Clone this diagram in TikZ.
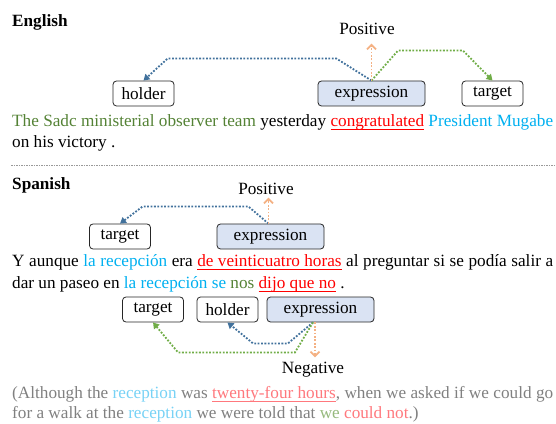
\documentclass[tikz,border=0pt]{standalone}
\usepackage{fontspec}
\setmainfont{Liberation Serif}
\usetikzlibrary{arrows.meta}
\definecolor{holdc}{RGB}{84,130,53}
\definecolor{tgtc}{RGB}{0,176,240}
\definecolor{expc}{RGB}{255,0,0}
\definecolor{holdl}{RGB}{150,185,125}
\definecolor{tgtl}{RGB}{120,210,245}
\definecolor{expl}{RGB}{255,120,125}
\definecolor{transc}{RGB}{128,128,128}
\definecolor{boxfill}{RGB}{218,227,243}
\definecolor{bluelink}{RGB}{65,113,156}
\definecolor{greenlink}{RGB}{112,173,71}
\definecolor{orangelink}{RGB}{244,177,131}
\newcommand{\diagfont}{\rmfamily\fontsize{17.2}{21}\selectfont}
\newsavebox{\undlbox}
\newcommand{\undl}[1]{\sbox{\undlbox}{#1}\rlap{\rule[-3pt]{\wd\undlbox}{0.9pt}}\usebox{\undlbox}}
\begin{document}
\begin{tikzpicture}
  [x=1pt,y=1pt,every node/.style={font=\diagfont},
   link/.style={line width=1.8pt,dash pattern=on 1.8pt off 1.6pt,-{Triangle[length=6pt,width=7pt]}},
   olink/.style={link,orangelink,-{Straight Barb[length=4.5pt,width=9pt]}}]
  \tikzstyle{role} = [draw=black!85,line width=0.8pt,rounded corners=3.5pt,minimum height=25pt,inner sep=0pt,font=\diagfont]
  \tikzstyle{rolebox} = [role,minimum width=61pt]
  \tikzstyle{exprbox} = [role,minimum width=107pt,fill=boxfill]
  \tikzstyle{textline} = [anchor=base west,inner sep=0pt]
  \useasboundingbox (0,0) rectangle (556,423);

  % English
  \node[textline,font=\diagfont\bfseries] (en) at (12,396) {English};
  \node (posE) at (367,394) {Positive};
  \node[rolebox] (holderE) at (143.5,329.5) {holder};
  \node[exprbox] (exprE) at (371.5,329.5) {expression};
  \node[rolebox] (targetE) at (492.5,329.5) {target};
  \node[textline] (e1) at (12,296) {\hbox to 541pt{\textcolor{holdc}{The Sadc ministerial observer team} yesterday \textcolor{expc}{\undl{congratulated}} \textcolor{tgtc}{President Mugabe}}};
  \node[textline] (e2) at (12,275) {on his victory .};

  \draw[link,bluelink] (exprE.north) -- ++(-35,22) -- ++(-169,0) -- (holderE.north);
  \draw[link,greenlink] (exprE.north) -- ++(26.5,30) -- ++(65,0) -- (targetE.north);
  \draw[olink] (exprE.north) -- ++(0,37);

  \draw[black!40,line width=0.7pt,dash pattern=on 1.5pt off 1pt] (11,258) -- (556,258);

  % Spanish
  \node[textline,font=\diagfont\bfseries] (es) at (12,233) {Spanish};
  \node (posS) at (266,234) {Positive};
  \node[rolebox] (targetS) at (120,186.5) {target};
  \node[exprbox] (exprS) at (270.5,186.5) {expression};
  \node[textline] (s1) at (12,156.5) {\hbox to 541pt{Y aunque \textcolor{tgtc}{la recepción} era \textcolor{expc}{\undl{de veinticuatro horas}} al preguntar si se podía salir a}};
  \node[textline] (s2) at (12,134.5) {dar un paseo en \textcolor{tgtc}{la recepción se} \textcolor{holdc}{nos} \textcolor{expc}{\undl{dijo que no}} .};

  \draw[link,bluelink] ([xshift=-2pt]exprS.north) -- ++(-20,17) -- ++(-106,0) -- (targetS.north);
  \draw[olink] ([xshift=-2pt]exprS.north) -- ++(0,26);

  \node[rolebox] (targetS2) at (153,113.5) {target};
  \node[rolebox] (holderS2) at (227.5,113.5) {holder};
  \node[exprbox] (exprS2) at (320.5,113.5) {expression};
  \node (negS) at (313,53) {Negative};

  \draw[link,bluelink] ([xshift=-7.5pt]exprS2.south) -- ++(-25,-21) -- ++(-35,0) -- (holderS2.south);
  \draw[link,greenlink] ([xshift=-7.5pt]exprS2.south) -- ++(-18,-30) -- ++(-117,0) -- (targetS2.south);
  \draw[olink] ([xshift=-5.5pt]exprS2.south) -- ++(0,-35);

  \node[textline,transc] (t1) at (12,24.5) {\hbox to 541pt{(Although the \textcolor{tgtl}{reception} was \textcolor{expl}{\undl{twenty-four hours}}, when we asked if we could go}};
  \node[textline,transc] (t2) at (12,4.5) {for a walk at the \textcolor{tgtl}{reception} we were told that \textcolor{holdl}{we} \textcolor{expl}{could not}.)};
\end{tikzpicture}
\end{document}
